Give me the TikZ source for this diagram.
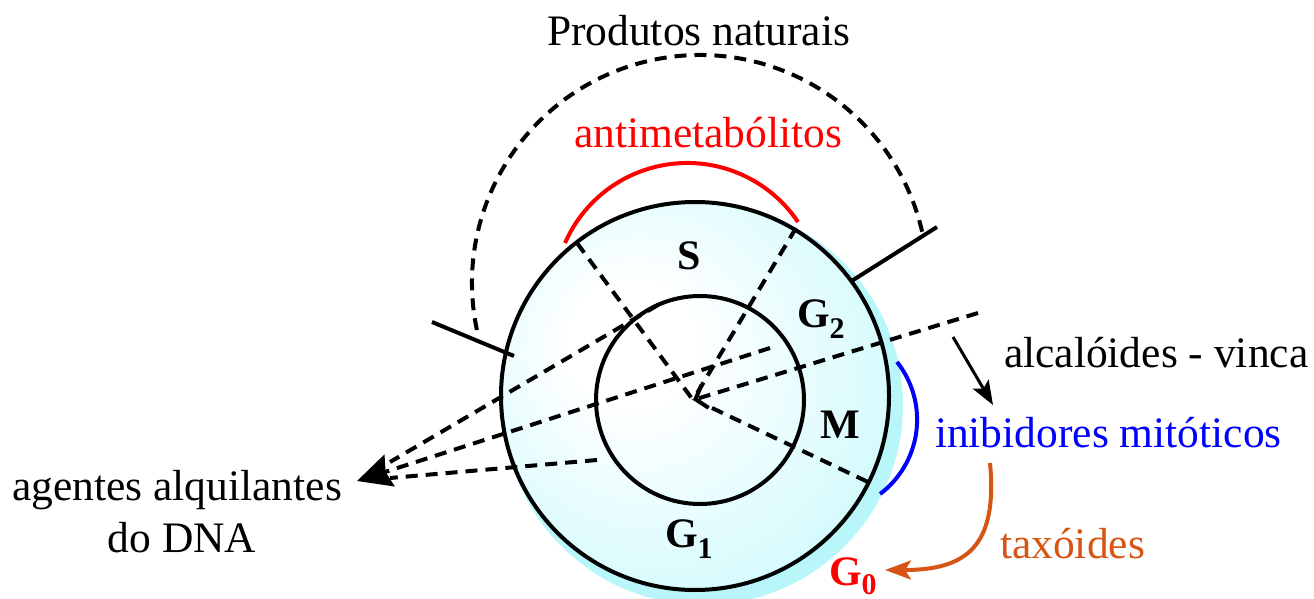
\documentclass[tikz,border=0pt]{standalone}
\usepackage{fontspec}
\setmainfont{Liberation Serif}
\usetikzlibrary{arrows.meta}
\definecolor{cellcyan}{RGB}{176,247,251}
\definecolor{shadowcyan}{RGB}{184,246,250}
\definecolor{orng}{RGB}{214,84,20}
\pgfdeclareradialshading{cellshade}{\pgfpoint{-10bp}{8bp}}{color(0bp)=(white); color(8bp)=(white); color(50bp)=(cellcyan)}
\begin{document}
\begin{tikzpicture}[x=1pt,y=1pt,line width=4pt,
  lbl/.style={inner sep=0pt,font=\fontsize{43.5}{52}\selectfont},
  phase/.style={inner sep=0pt,font=\fontsize{42}{50}\selectfont\bfseries},
  dsh/.style={dash pattern=on 12pt off 8pt}]
\useasboundingbox (0,0) rectangle (1314,598);
% centres
\coordinate (Oc) at (695,202);
\coordinate (Ic) at (700,198);
\coordinate (O) at (693,198);
% cell
\fill[shadowcyan] (703,193) circle[radius=200];
\shade[shading=cellshade] (Oc) circle[radius=194];
\draw (Oc) circle[radius=194];
\draw (Ic) circle[radius=104];
% arcs
\draw[red] (687.3,301.6) ++(156.4:133.4) arc[start angle=156.4,end angle=33.9,radius=133.4];
\draw[dsh] (700,315) ++(191.9:228) arc[start angle=191.9,end angle=12.7,radius=228];
\draw[blue] (824.1,178.3) ++(38.4:93) arc[start angle=38.4,end angle=-53,radius=93];
% solid ticks
\coordinate (tl1) at (432,276);
\coordinate (tl2) at (514,242);
\coordinate (tr1) at (850,316);
\coordinate (tr2) at (937,371);
\draw (tl1) -- (tl2);
\draw (tr1) -- (tr2);
% dashed lines
\coordinate (ul) at (577,355);
\coordinate (ne) at (796,370);
\coordinate (ses) at (712,190);
\coordinate (se) at (868,116);
\coordinate (rr) at (978,285);
\coordinate (la) at (658,293);
\coordinate (lb) at (770,250);
\coordinate (lc) at (597,138);
\coordinate (tip) at (357,117);
\coordinate (ea) at (390,136);
\coordinate (ec) at (390,120);
\draw[dsh] (ul) -- (O);
\draw[dsh] (ne) -- (O);
\draw[dsh] (ses) -- (se);
\draw[dsh,-{Straight Barb[length=10pt,width=24pt]}] (rr) -- (O);
\draw[dsh] (la) -- (ea);
\draw[dsh,-{Stealth[length=34pt,width=33pt,inset=4pt]}] (lb) -- (tip);
\draw[dsh] (lc) -- (ec);
% labels
\node[lbl,anchor=base west] (pn) at (545,552) {Produtos naturais};
\node[lbl,anchor=base west,text=red] (am) at (572,450) {antimetabólitos};
\node[lbl,anchor=base west] (av) at (1002,231) {alcalóides - vinca};
\node[lbl,anchor=base west,text=blue] (im) at (933,151) {inibidores mitóticos};
\node[lbl,anchor=base west,text=orng] (tx) at (998,40) {taxóides};
\node[lbl,anchor=base] (ag1) at (177,98) {agentes alquilantes};
\node[lbl,anchor=base] (ag2) at (182,46) {do DNA};
\node[phase,anchor=base west] (S) at (675,328) {S};
\node[phase,anchor=base west] (G2) at (795,271) {G\raisebox{-11pt}{\fontsize{30}{30}\selectfont 2}};
\node[phase,anchor=base west] (M) at (818,160) {M};
\node[phase,anchor=base west] (G1) at (663,51) {G\raisebox{-11pt}{\fontsize{30}{30}\selectfont 1}};
\node[phase,anchor=base west,text=red] (G0) at (827,13) {G\raisebox{-9pt}{\fontsize{30}{30}\selectfont 0}};
% arrows
\coordinate (aa1) at (953,261);
\coordinate (aa2) at (993,193);
\draw[line width=3pt,-{Stealth[length=24pt,width=18pt,inset=5pt]}] (aa1) -- (aa2);
\coordinate (ta1) at (990,135);
\coordinate (ta2) at (885,28);
\draw[orng,-{Stealth[length=26pt,width=19pt,inset=6pt]}] (ta1) .. controls (998,50) and (965,28) .. (ta2);
\end{tikzpicture}
\end{document}
